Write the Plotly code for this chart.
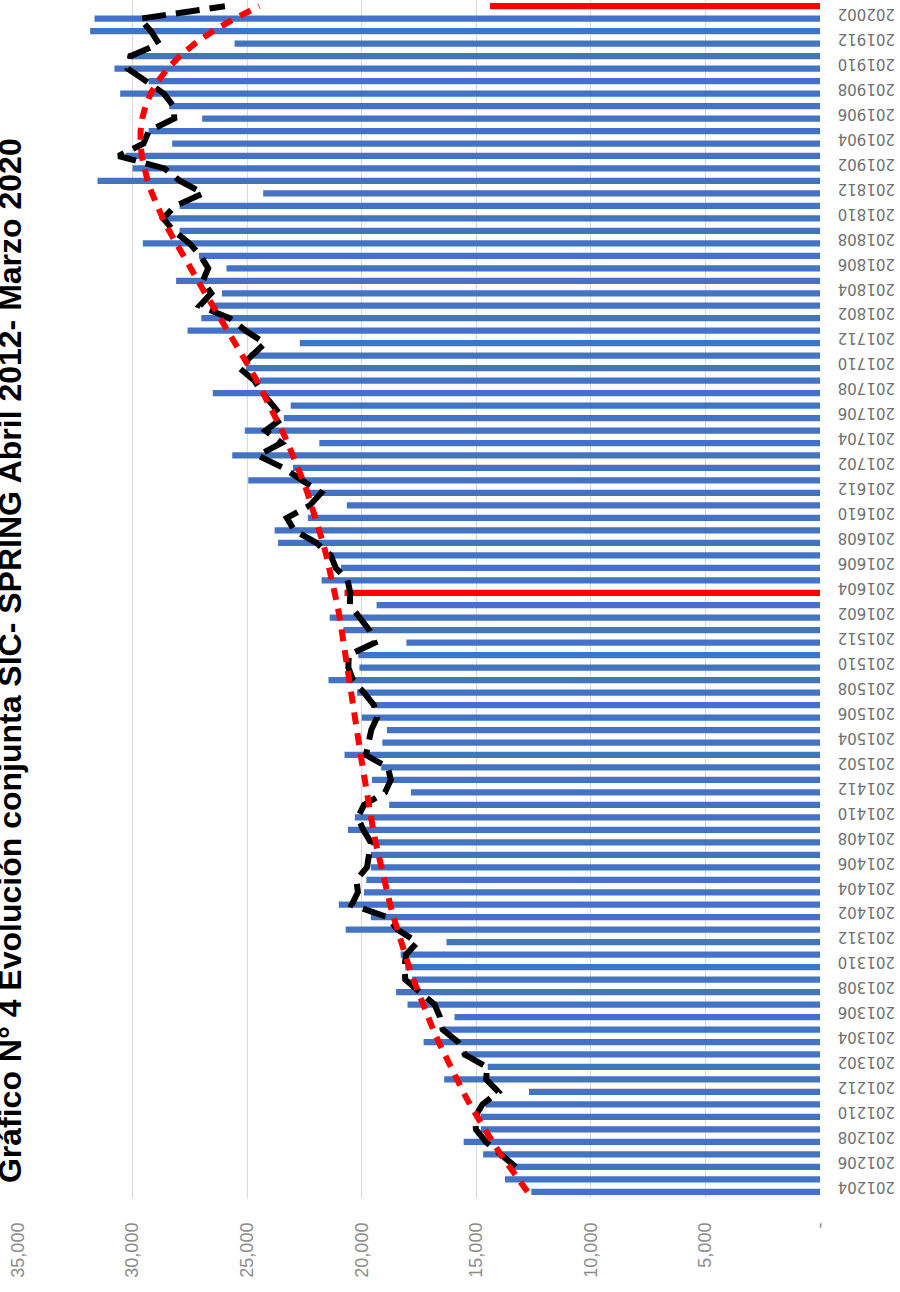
import plotly.graph_objects as go

periods = [
    "201204", "201205", "201206", "201207", "201208", "201209", "201210", "201211", "201212",
    "201301", "201302", "201303", "201304", "201305", "201306", "201307", "201308", "201309", "201310", "201311", "201312",
    "201401", "201402", "201403", "201404", "201405", "201406", "201407", "201408", "201409", "201410", "201411", "201412",
    "201501", "201502", "201503", "201504", "201505", "201506", "201507", "201508", "201509", "201510", "201511", "201512",
    "201601", "201602", "201603", "201604", "201605", "201606", "201607", "201608", "201609", "201610", "201611", "201612",
    "201701", "201702", "201703", "201704", "201705", "201706", "201707", "201708", "201709", "201710", "201711", "201712",
    "201801", "201802", "201803", "201804", "201805", "201806", "201807", "201808", "201809", "201810", "201811", "201812",
    "201901", "201902", "201903", "201904", "201905", "201906", "201907", "201908", "201909", "201910", "201911", "201912",
    "202001", "202002", "202003",
]

# monthly SIC-SPRING totals
sic_spring = [
    12600, 13750, 13500, 14700, 15550, 14800, 14800, 14600, 12700,
    16400, 14500, 15600, 17300, 16500, 15950, 18000, 18500, 17800, 18100, 18300, 16300,
    20700, 19600, 21000, 19900, 19800, 19600, 19600, 19600, 20600, 20300, 18800, 17850,
    19550, 19150, 20750, 19100, 18900, 20000, 19500, 20200, 21450, 20100, 20150, 18050,
    20800, 21400, 19350, 20750, 21750, 20900, 21400, 23650, 23800, 22350, 20650, 22300,
    24950, 23000, 25650, 21850, 25100, 23400, 23100, 26500, 24450, 25050, 24900, 22700,
    27600, 27000, 26600, 26100, 28100, 25900, 27100, 29550, 27950, 28500, 27950, 24300,
    31530, 30000, 30300, 28270, 29300, 26960, 28400, 30540, 29300, 30790, 30200, 25550,
    31850, 31660, 14400,
]

# 3-month moving average (starts at the third month)
media_movil_3 = [
    13283, 13983, 14583, 15017, 15050, 14733, 14033, 14567, 14533, 15500, 15800, 16467, 16583, 16817, 17483, 18100,
    18133, 18067, 17567, 18433, 18867, 20433, 20167, 20233, 19767, 19667, 19600, 19933, 20167, 19900, 18983, 18733,
    18850, 19817, 19667, 19583, 19333, 19467, 19900, 20383, 20583, 20567, 19433, 19667, 20083, 20517, 20500, 20617,
    21133, 21350, 21983, 22950, 23267, 22267, 21767, 22633, 23417, 24533, 23500, 24200, 23450, 23867, 24333, 24683,
    25333, 24800, 24217, 25067, 25767, 27067, 26567, 26933, 26700, 27033, 27517, 28200, 28667, 28133, 26917, 27927,
    28610, 30610, 29523, 29290, 28177, 28220, 28633, 29413, 30210, 30097, 28847, 29200, 29687, 25970,
]

# polynomial trend line
tendencia = [
    12764, 13174, 13566, 13939, 14296, 14636, 14962, 15274, 15572, 15858, 16131, 16393, 16643, 16883, 17113, 17332,
    17542, 17742, 17932, 18114, 18287, 18452, 18608, 18757, 18897, 19031, 19157, 19277, 19391, 19498, 19600, 19698,
    19790, 19879, 19964, 20047, 20127, 20206, 20283, 20361, 20439, 20518, 20599, 20683, 20771, 20863, 20960, 21062,
    21171, 21288, 21413, 21546, 21689, 21842, 22005, 22180, 22366, 22563, 22773, 22995, 23230, 23476, 23735, 24006,
    24287, 24580, 24882, 25193, 25512, 25837, 26166, 26498, 26831, 27161, 27487, 27805, 28112, 28405, 28679, 28929,
    29152, 29342, 29493, 29599, 29653, 29650, 29580, 29436, 29210, 28892, 28473, 27941, 27287, 26498, 25562, 24467,
]

highlighted = ["201604", "202003"]

value_ticks = [0, 5000, 10000, 15000, 20000, 25000, 30000, 35000]
value_tick_text = ["-", "5,000", "10,000", "15,000", "20,000", "25,000", "30,000", "35,000"]

title = "Gráfico N° 4 Evolución conjunta SIC- SPRING Abril 2012- Marzo 2020"

bar_colors = ["#FF0000" if p in highlighted else "#4472C4" for p in periods]

fig = go.Figure()
fig.add_bar(y=periods, x=sic_spring, orientation="h",
            marker=dict(color=bar_colors, line=dict(width=0)))
fig.add_scatter(y=periods[2:], x=media_movil_3, mode="lines",
                line=dict(color="black", width=6, dash="24px,10px"))
fig.add_scatter(y=periods, x=tendencia, mode="lines",
                line=dict(color="#FF0000", width=6, dash="12px,9px"))

fig.update_layout(
    width=900, height=1292,
    margin=dict(l=18, r=80, t=0, b=94),
    plot_bgcolor="white", paper_bgcolor="white",
    showlegend=False, bargap=0.5,
)
fig.update_xaxes(
    range=[35000, 0], tickvals=value_ticks, ticktext=value_tick_text,
    tickangle=-90, showgrid=True, gridcolor="#d9d9d9", gridwidth=1,
    zeroline=False, showline=False, ticks="", ticklabelstandoff=20,
    tickfont=dict(family="Liberation Sans", size=18, color="#8c8c8c"),
)
fig.update_yaxes(
    type="category", categoryorder="array", categoryarray=periods,
    side="right", tickvals=periods[::2], ticktext=periods[::2], tickangle=180,
    showgrid=False, zeroline=False, showline=False, ticks="", range=[-0.5, 95.5],
    ticklabelstandoff=74,
    tickfont=dict(family="DejaVu Sans", size=15, color="#707070"),
)
fig.add_annotation(
    text="<b>" + title + "</b>", xref="paper", yref="paper",
    x=-0.01, y=0.449, xanchor="center", yanchor="middle",
    textangle=-90, showarrow=False,
    font=dict(family="Liberation Sans", size=32, color="black"),
)

fig.write_html("out.html")
